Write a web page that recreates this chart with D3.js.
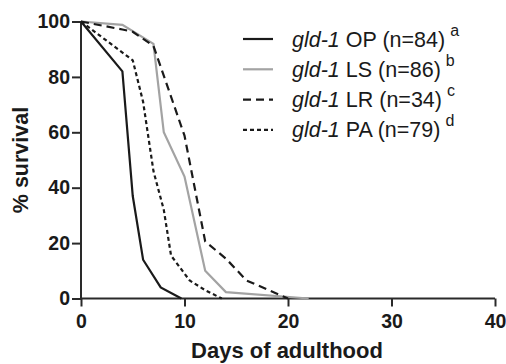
<!DOCTYPE html>
<html lang="en">
<head>
<meta charset="utf-8">
<title>gld-1 survival</title>
<script src="https://d3js.org/d3.v7.min.js"></script>
<style>
  body { margin: 0; background: #fff; }
  text { font-family: "Liberation Sans", Arial, sans-serif; }
</style>
</head>
<body>
<div id="main"></div>
<script>

// survival curves (day, % alive)
var opDays = [0, 4, 5, 6, 7.7, 9.7]
var opSurv = [100, 82, 37, 14, 4, 0]

var lsDays = [0, 4, 7, 8, 10, 12, 14, 22]
var lsSurv = [100, 98.8, 91.9, 60, 44, 10, 2.3, 0]

var lrDays = [0, 4, 5, 7, 10, 12, 14, 16, 20]
var lrSurv = [100, 97.1, 96.3, 91.2, 58.8, 20.6, 14.4, 6.5, 0]

var paDays = [0, 5, 6, 7, 8, 8.7, 10.5, 12, 13.6]
var paSurv = [100, 86, 71, 46, 32, 15.5, 6.5, 3, 0]

var strains = ["OP", "LS", "LR", "PA"]
var nWorms = [84, 86, 34, 79]
var sigLetters = ["a", "b", "c", "d"]

var xTicks = [0, 10, 20, 30, 40]
var yTicks = [0, 20, 40, 60, 80, 100]

var width = 506,
    height = 364

var svg = d3.select("#main").append("svg")
    .attr("width", width)
    .attr("height", height)

var x = d3.scaleLinear().domain([0, 40]).range([81, 495])
var y = d3.scaleLinear().domain([0, 100]).range([298.5, 21.5])

function zip(days, surv) {
  return days.map(function(d, i) { return [d, surv[i]] })
}

var series = [
  { pts: zip(opDays, opSurv), color: "#1a1a1a", dash: null },
  { pts: zip(lsDays, lsSurv), color: "#a3a3a3", dash: null },
  { pts: zip(lrDays, lrSurv), color: "#1a1a1a", dash: "8,5" },
  { pts: zip(paDays, paSurv), color: "#1a1a1a", dash: "4,3" }
]

var line = d3.line()
    .x(function(d) { return x(d[0]) })
    .y(function(d) { return y(d[1]) })

// axes
var xAxis = svg.append("g")
    .attr("transform", "translate(0," + y(0) + ")")
    .call(d3.axisBottom(x).tickValues(xTicks).tickSize(8).tickPadding(8))
var yAxis = svg.append("g")
    .attr("transform", "translate(" + x(0) + ",0)")
    .call(d3.axisLeft(y).tickValues(yTicks).tickSize(9).tickPadding(2))

svg.selectAll(".domain, .tick line")
    .attr("stroke", "#2a2a2a")
    .attr("stroke-width", 2)
svg.selectAll(".tick text")
    .attr("font-family", "Liberation Sans, Arial, sans-serif")
    .attr("font-size", 19.5)
    .attr("font-weight", "bold")
    .attr("fill", "#1a1a1a")
// d3 axis domain has outer ticks; redraw clean lines
xAxis.select(".domain").attr("d", "M" + x(0) + ",0H" + x(40))
yAxis.select(".domain").attr("d", "M0," + y(0) + "V" + y(100))

// curves
svg.append("g").selectAll("path")
  .data(series)
  .enter().append("path")
    .attr("d", function(d) { return line(d.pts) })
    .attr("fill", "none")
    .attr("stroke", function(d) { return d.color })
    .attr("stroke-width", 2.2)
    .attr("stroke-dasharray", function(d) { return d.dash })

// axis titles
svg.append("text")
    .attr("x", 287)
    .attr("y", 358)
    .attr("text-anchor", "middle")
    .attr("font-size", 22)
    .attr("font-weight", "bold")
    .attr("fill", "#1a1a1a")
    .text("Days of adulthood")

svg.append("text")
    .attr("transform", "translate(28,160) rotate(-90)")
    .attr("text-anchor", "middle")
    .attr("font-size", 21.5)
    .attr("font-weight", "bold")
    .attr("fill", "#1a1a1a")
    .text("% survival")

// legend
var legend = svg.append("g")
var rows = legend.selectAll("g")
  .data(series)
  .enter().append("g")
    .attr("transform", function(d, i) { return "translate(0," + (39 + i * 30.3) + ")" })

rows.append("line")
    .attr("x1", 243).attr("x2", 273)
    .attr("stroke", function(d) { return d.color })
    .attr("stroke-width", 2.2)
    .attr("stroke-dasharray", function(d) { return d.dash })

var labels = rows.append("text")
    .attr("x", 292)
    .attr("y", 7.5)
    .attr("font-size", 21.5)
    .attr("fill", "#1a1a1a")
labels.append("tspan")
    .attr("font-style", "italic")
    .text("gld-1")
labels.append("tspan")
    .text(function(d, i) { return " " + strains[i] + " (n=" + nWorms[i] + ")" })
labels.append("tspan")
    .attr("dx", 5)
    .attr("dy", -11)
    .attr("font-size", 16)
    .text(function(d, i) { return sigLetters[i] })

</script>
</body>
</html>
